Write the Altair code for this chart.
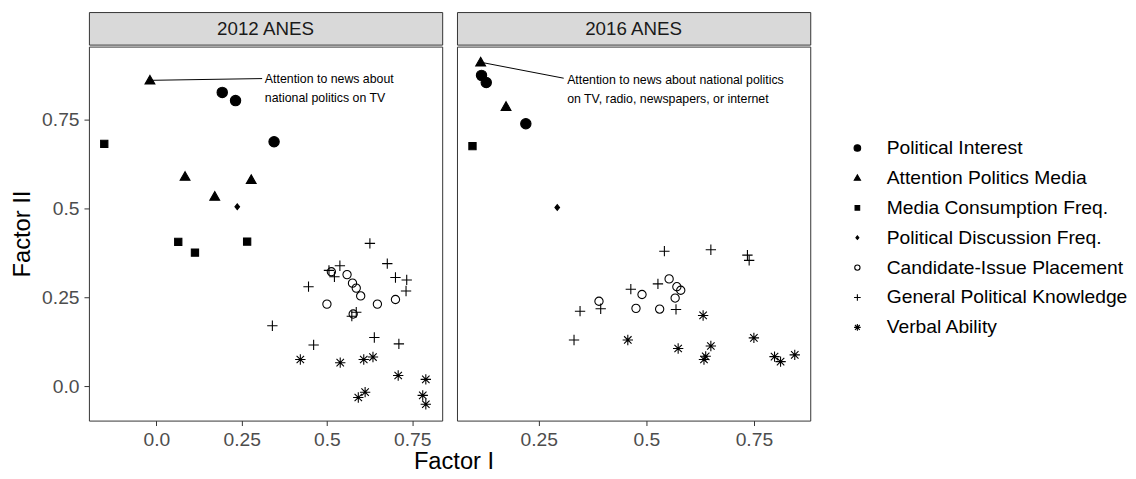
import altair as alt
import pandas as pd

FONT = "Liberation Sans"

categories = [
    "Political Interest",
    "Attention Politics Media",
    "Media Consumption Freq.",
    "Political Discussion Freq.",
    "Candidate-Issue Placement",
    "General Political Knowledge",
    "Verbal Ability",
]
shape_paths = [
    "circle",
    "M0,-0.95L0.95,0.72L-0.95,0.72Z",
    "M-0.7,-0.7L0.7,-0.7L0.7,0.7L-0.7,0.7Z",
    "M0,-0.55L0.45,0L0,0.55L-0.45,0Z",
    "M-0.8,0A0.8,0.8,0,1,1,0.8,0A0.8,0.8,0,1,1,-0.8,0Z",
    "M-1,0L1,0M0,-1L0,1",
    "M-1,0L1,0M0,-1L0,1M-0.72,-0.72L0.72,0.72M-0.72,0.72L0.72,-0.72",
]
fill_colors = ["black", "black", "black", "black", "transparent", "black", "black"]
stroke_colors = ["black"] * 7

# ---- 2012 ANES ----
f1_2012 = [0.193, 0.232, 0.345,
           -0.019, 0.084, 0.171, 0.278,
           -0.153, 0.064, 0.113, 0.266,
           0.237,
           0.500, 0.513, 0.559, 0.575, 0.586, 0.599, 0.648, 0.701, 0.577,
           0.626, 0.677, 0.538, 0.506, 0.522, 0.701, 0.734, 0.732, 0.446, 0.340, 0.461, 0.639, 0.711, 0.573, 0.586,
           0.422, 0.539, 0.608, 0.635, 0.709, 0.790, 0.781, 0.790, 0.592, 0.612]
f2_2012 = [0.827, 0.804, 0.688,
           0.861, 0.590, 0.534, 0.581,
           0.682, 0.406, 0.376, 0.407,
           0.505,
           0.231, 0.322, 0.314, 0.290, 0.276, 0.254, 0.231, 0.244, 0.203,
           0.402, 0.345, 0.339, 0.326, 0.308, 0.306, 0.299, 0.268, 0.280, 0.170, 0.116, 0.137, 0.119, 0.197, 0.208,
           0.075, 0.066, 0.075, 0.082, 0.030, 0.019, -0.026, -0.051, -0.032, -0.017]
g_2012 = [0] * 3 + [1] * 4 + [2] * 4 + [3] * 1 + [4] * 9 + [5] * 15 + [6] * 10

# ---- 2016 ANES ----
f1_2016 = [0.117, 0.128, 0.220,
           0.115, 0.174,
           0.096,
           0.293,
           0.553, 0.571, 0.580, 0.490, 0.567, 0.390, 0.476, 0.531,
           0.542, 0.650, 0.735, 0.739, 0.527, 0.464, 0.346, 0.394, 0.569, 0.332,
           0.632, 0.457, 0.574, 0.650, 0.638, 0.634, 0.750, 0.798, 0.812, 0.845]
f2_2016 = [0.875, 0.855, 0.739,
           0.912, 0.787,
           0.676,
           0.503,
           0.302, 0.280, 0.270, 0.258, 0.248, 0.239, 0.219, 0.217,
           0.380, 0.384, 0.369, 0.354, 0.288, 0.273, 0.211, 0.218, 0.216, 0.130,
           0.199, 0.130, 0.106, 0.113, 0.084, 0.075, 0.136, 0.083, 0.069, 0.088]
g_2016 = [0] * 3 + [1] * 2 + [2] * 1 + [3] * 1 + [4] * 8 + [5] * 10 + [6] * 10

panel_titles = ["2012 ANES", "2016 ANES"]
x_domains = [[-0.198, 0.838], [0.06, 0.881]]
x_ticks = [[0.0, 0.25, 0.5, 0.75], [0.25, 0.5, 0.75]]
y_domain = [-0.097, 0.956]
y_ticks = [0.0, 0.25, 0.5, 0.75]

ann_texts = ["Attention to news about\nnational politics on TV",
             "Attention to news about national politics\non TV, radio, newspapers, or internet"]
ann_from_x = [-0.019, 0.115]
ann_from_y = [0.861, 0.912]
ann_to_x = [0.310, 0.308]
ann_to_y = [0.866, 0.867]
ann_text_x = [0.318, 0.316]
ann_text_y = [0.864, 0.862]

W, H, STRIP_H = 358, 379, 33
LABEL_COLOR = "#4d4d4d"
TICK_COLOR = "#333333"
LABEL_EXPR = "datum.value == 0 ? '0.0' : toString(datum.value)"
PAD = {"left": 2, "top": 0, "right": 0, "bottom": -3.5}


def panel(i, xs, ys, gs):
    df = pd.DataFrame({"f1": xs, "f2": ys, "group": [categories[g] for g in gs]})
    ann = pd.DataFrame({
        "x": [ann_from_x[i]], "y": [ann_from_y[i]],
        "x2": [ann_to_x[i]], "y2": [ann_to_y[i]],
        "tx": [ann_text_x[i]], "ty": [ann_text_y[i]],
        "label": [ann_texts[i]],
    })
    x_axis = alt.Axis(values=x_ticks[i], labelExpr=LABEL_EXPR, grid=False, domain=False,
                      tickSize=5, tickColor=TICK_COLOR, labelColor=LABEL_COLOR,
                      labelFontSize=19.5, labelFont=FONT, labelPadding=5, title=None)
    xs_scale = alt.Scale(domain=x_domains[i], nice=False, zero=False)
    ys_scale = alt.Scale(domain=y_domain, nice=False, zero=False)

    if i == 0:
        y_axis = alt.Axis(values=y_ticks, labelExpr=LABEL_EXPR, grid=False, domain=False,
                          tickSize=5, tickColor=TICK_COLOR, labelColor=LABEL_COLOR,
                          labelFontSize=19.5, labelFont=FONT, labelPadding=5,
                          title="Factor II", titleFont=FONT, titleFontSize=24,
                          titleFontWeight="normal", titleColor="black", titlePadding=7)
        y_enc = alt.Y("f2:Q", scale=ys_scale, axis=y_axis)
    else:
        y_enc = alt.Y("f2:Q", scale=ys_scale, axis=None)

    pts = alt.Chart(df).mark_point(size=110, opacity=1, strokeWidth=1.1).encode(
        x=alt.X("f1:Q", scale=xs_scale, axis=x_axis),
        y=y_enc,
        shape=alt.Shape("group:N", scale=alt.Scale(domain=categories, range=shape_paths),
                        legend=alt.Legend(title=None)),
        fill=alt.Fill("group:N", scale=alt.Scale(domain=categories, range=fill_colors),
                      legend=alt.Legend(title=None)),
        stroke=alt.Stroke("group:N", scale=alt.Scale(domain=categories, range=stroke_colors),
                          legend=alt.Legend(title=None)),
    )
    seg = alt.Chart(ann).mark_rule(color="black", strokeWidth=1).encode(
        x="x:Q", y="y:Q", x2="x2:Q", y2="y2:Q")
    txt = alt.Chart(ann).mark_text(align="left", baseline="middle", fontSize=12.5,
                                   lineHeight=19, lineBreak="\n", font=FONT,
                                   color="black").encode(x="tx:Q", y="ty:Q", text="label:N")
    plot = alt.layer(pts, seg, txt).properties(width=W, height=H)

    strip = alt.Chart(pd.DataFrame({"label": [panel_titles[i]]})).mark_text(
        fontSize=19, font=FONT, color="#1a1a1a", baseline="middle").encode(
        text="label:N", x=alt.value(W / 2), y=alt.value(STRIP_H / 2 + 1)
    ).properties(width=W, height=STRIP_H,
                 view=alt.ViewBackground(fill="#d9d9d9", stroke="#333333", strokeWidth=1))
    return alt.vconcat(strip, plot, spacing=0)


chart = alt.hconcat(
    panel(0, f1_2012, f2_2012, g_2012),
    panel(1, f1_2016, f2_2016, g_2016),
    spacing=13,
).properties(
    padding=PAD,
    title=alt.TitleParams(text="Factor I", orient="bottom", anchor="start", align="center",
                          frame="group", dx=370, offset=1, font=FONT, fontSize=24,
                          fontWeight="normal", color="black"),
).configure(
    padding=PAD,
).configure_view(
    stroke="#333333", strokeWidth=1
).configure_legend(
    orient="none", legendX=769, legendY=128, symbolSize=45, labelFontSize=19.5,
    labelFont=FONT, labelColor="black", rowPadding=9.3, labelOffset=20, labelLimit=400,
    symbolStrokeWidth=1.1, padding=0,
)

chart.save("out.html", embed_options={"renderer": "svg", "actions": False})
